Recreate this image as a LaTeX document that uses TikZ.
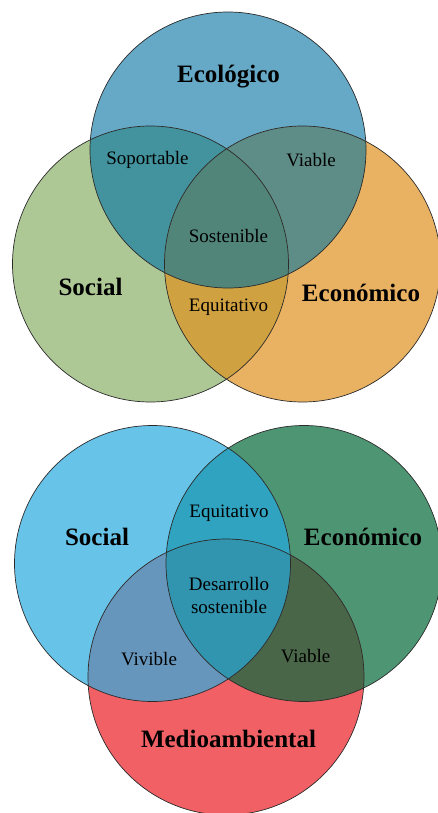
\documentclass[tikz,border=0pt]{standalone}
\usepackage{fontspec}
\setmainfont{Liberation Serif}
\definecolor{ecoT}{HTML}{65A9C6}
\definecolor{socT}{HTML}{ADC795}
\definecolor{ecnT}{HTML}{E9B262}
\definecolor{sopT}{HTML}{42939E}
\definecolor{viaT}{HTML}{5E8C86}
\definecolor{sosT}{HTML}{51857A}
\definecolor{equT}{HTML}{D0A140}
\definecolor{socB}{HTML}{67C3E8}
\definecolor{ecnB}{HTML}{4E9574}
\definecolor{medB}{HTML}{F06065}
\definecolor{equB}{HTML}{30A3C0}
\definecolor{desB}{HTML}{3195B0}
\definecolor{vivB}{HTML}{6796BD}
\definecolor{viaB}{HTML}{4A6649}
\definecolor{edge}{HTML}{2B2B2B}
\tikzset{
  ring/.style={draw=edge, line width=0.7pt},
  small/.style={font=\fontsize{19}{21}\selectfont, text=black, inner sep=0pt},
  big/.style={font=\fontsize{25}{27}\selectfont\bfseries, text=black, inner sep=0pt},
}
\begin{document}
\begin{tikzpicture}[x=1pt,y=-1pt]
\useasboundingbox (0,0) rectangle (437,813);
% ---------- top diagram ----------
\def\R{138}
\coordinate (E) at (228,150);
\coordinate (S) at (150.5,264);
\coordinate (C) at (302.5,264);
\fill[ecoT] (E) circle (\R);
\fill[socT] (S) circle (\R);
\fill[ecnT] (C) circle (\R);
\begin{scope}\clip (E) circle (\R); \fill[sopT] (S) circle (\R); \end{scope}
\begin{scope}\clip (E) circle (\R); \fill[viaT] (C) circle (\R); \end{scope}
\begin{scope}\clip (S) circle (\R); \fill[equT] (C) circle (\R); \end{scope}
\begin{scope}\clip (E) circle (\R); \clip (S) circle (\R); \fill[sosT] (C) circle (\R); \end{scope}
\draw[ring] (E) circle (\R);
\draw[ring] (S) circle (\R);
\draw[ring] (C) circle (\R);
\node[big] (tEco) at (228.5,77) {Ecológico};
\node[big] (tSoc) at (90.5,287) {Social};
\node[big] (tEcn) at (361,293) {Económico};
\node[small] (tSop) at (147.5,160) {Soportable};
\node[small] (tVia) at (311,160) {Viable};
\node[small] (tSos) at (228.5,236) {Sostenible};
\node[small] (tEqu) at (228.5,307) {Equitativo};
% ---------- bottom diagram ----------
\coordinate (S2) at (152.5,563.5);
\coordinate (C2) at (304,563.5);
\coordinate (M2) at (226,677);
\fill[socB] (S2) circle (\R);
\fill[ecnB] (C2) circle (\R);
\fill[medB] (M2) circle (\R);
\begin{scope}\clip (S2) circle (\R); \fill[equB] (C2) circle (\R); \end{scope}
\begin{scope}\clip (S2) circle (\R); \fill[vivB] (M2) circle (\R); \end{scope}
\begin{scope}\clip (C2) circle (\R); \fill[viaB] (M2) circle (\R); \end{scope}
\begin{scope}\clip (S2) circle (\R); \clip (C2) circle (\R); \fill[desB] (M2) circle (\R); \end{scope}
\draw[ring] (S2) circle (\R);
\draw[ring] (C2) circle (\R);
\draw[ring] (M2) circle (\R);
\node[big] (bSoc) at (97,537) {Social};
\node[big] (bEcn) at (363,537) {Económico};
\node[big] (bMed) at (228.5,739) {Medioambiental};
\node[small] (bEqu) at (229,513) {Equitativo};
\node[small, align=center, font=\fontsize{19}{23}\selectfont] (bDes) at (229,595) {Desarrollo\\sostenible};
\node[small] (bViv) at (149,659) {Vivible};
\node[small] (bVia) at (305.5,656) {Viable};
\end{tikzpicture}
\end{document}
